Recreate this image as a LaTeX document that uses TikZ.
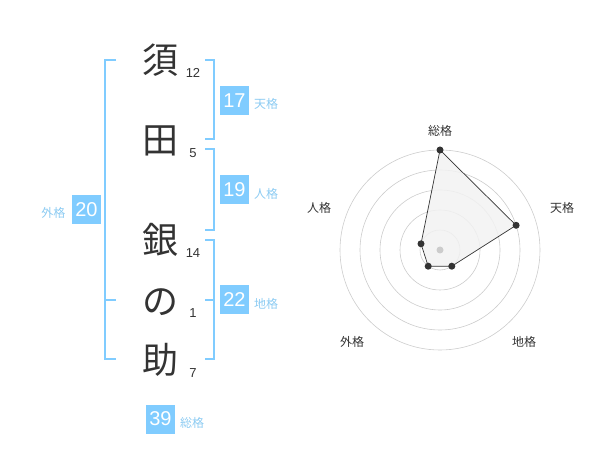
\documentclass[tikz,border=0pt]{standalone}
\usepackage{fontspec}
\setmainfont{Liberation Sans}
\newfontfamily\cjk{Noto Sans CJK JP}
\definecolor{bl}{HTML}{80CCFF}
\definecolor{bltxt}{HTML}{8CCBF2}
\definecolor{dk}{HTML}{333333}
\definecolor{ring}{HTML}{CCCCCC}
\definecolor{fillg}{HTML}{F2F2F2}
\tikzset{
  kanji/.style={inner sep=0pt, text=dk, font=\cjk\fontsize{36}{36}\selectfont},
  stroke/.style={inner sep=0pt, text=dk, font=\fontsize{13}{13}\selectfont},
  brk/.style={draw=bl, line width=2pt},
  numbox/.style={fill=bl, text=white, minimum width=29pt, minimum height=29pt, inner sep=0pt, font=\fontsize{20}{20}\selectfont},
  kaku/.style={inner sep=0pt, text=bltxt, font=\cjk\fontsize{12}{12}\selectfont},
  rlabel/.style={inner sep=0pt, text=dk, font=\cjk\fontsize{12}{12}\selectfont},
  dot/.style={circle, fill=dk, inner sep=0pt, minimum size=7pt},
}
\begin{document}
\begin{tikzpicture}[x=1pt,y=-1pt]
\useasboundingbox (0,0) rectangle (600,470);
% name characters
\node[kanji] (c1) at (160,60) {須};
\node[kanji] (c2) at (160,141) {田};
\node[kanji] (c3) at (160,240) {銀};
\node[kanji] (c4) at (160,302) {の};
\node[kanji] (c5) at (160,360) {助};
% stroke counts
\node[stroke] (s1) at (193,73) {12};
\node[stroke] (s2) at (193,153) {5};
\node[stroke] (s3) at (193,253) {14};
\node[stroke] (s4) at (193,313) {1};
\node[stroke] (s5) at (193,373) {7};
% brackets
\draw[brk] (205,60) -- (214,60) -- (214,139) -- (205,139);
\draw[brk] (205,149) -- (214,149) -- (214,230) -- (205,230);
\draw[brk] (205,240) -- (214,240) -- (214,359) -- (205,359);
\draw[brk] (205,300) -- (214,300);
\draw[brk] (116,60) -- (105,60) -- (105,359) -- (116,359);
\draw[brk] (105,300) -- (116,300);
% boxes
\node[numbox] (ten) at (234.5,100.5) {17};
\node[kaku] (tenl) at (266,104) {天格};
\node[numbox] (jin) at (234.5,190) {19};
\node[kaku] (jinl) at (266,194) {人格};
\node[numbox] (chi) at (234.5,300) {22};
\node[kaku] (chil) at (266,304) {地格};
\node[numbox] (gai) at (86.5,210) {20};
\node[kaku] (gail) at (53.5,213) {外格};
\node[numbox] (sou) at (160.5,419) {39};
\node[kaku] (soul) at (192,423) {総格};
% radar
\foreach \r in {20,40,60,80,100} \draw[ring, line width=0.6pt] (440,250) circle (\r pt);
\coordinate (pS) at (440,150);
\coordinate (pT) at (516.1,225.3);
\coordinate (pC) at (451.8,266.2);
\coordinate (pG) at (428.2,266.2);
\coordinate (pJ) at (421.0,243.8);
\fill[fillg, opacity=0.85] (pS) -- (pT) -- (pC) -- (pG) -- (pJ) -- cycle;
\draw[dk, line width=0.7pt] (pS) -- (pT) -- (pC) -- (pG) -- (pJ) -- cycle;
\node[circle, fill=ring, inner sep=0pt, minimum size=7pt] (ctr) at (440,250) {};
\foreach \p in {pS,pT,pC,pG,pJ} \node[dot] at (\p) {};
\node[rlabel] (rS) at (440,131) {総格};
\node[rlabel] (rT) at (562,208) {天格};
\node[rlabel] (rJ) at (319,208) {人格};
\node[rlabel] (rG) at (352,342) {外格};
\node[rlabel] (rC) at (524,342) {地格};
\end{tikzpicture}
\end{document}
